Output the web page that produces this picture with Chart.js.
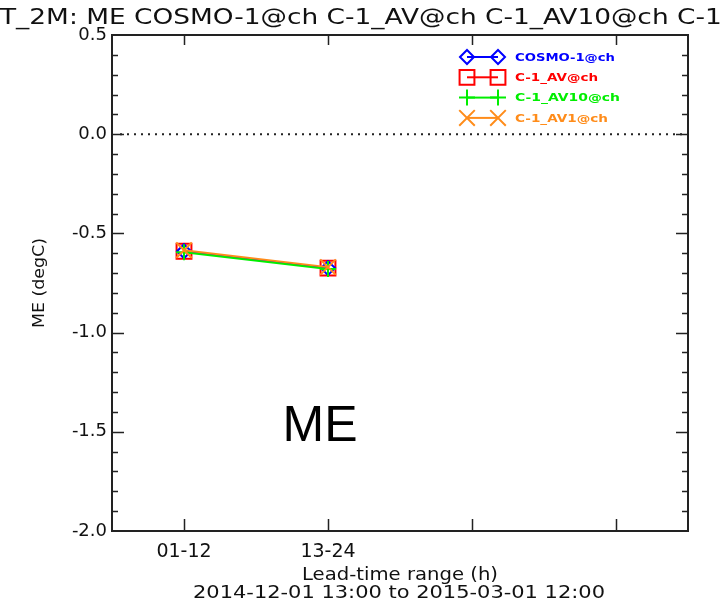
<!DOCTYPE html>
<html><head><meta charset="utf-8">
<script src="https://cdn.jsdelivr.net/npm/chart.js@4/dist/chart.umd.min.js"></script>
<style>html,body{margin:0;padding:0;background:#fff;}canvas{display:block;}</style>
</head><body>
<canvas id="c" width="721" height="605"></canvas>
<script>
// ---- data ----
const categories = ['01-12', '13-24', '', ''];
const seriesNames = ['COSMO-1@ch', 'C-1_AV@ch', 'C-1_AV10@ch', 'C-1_AV1@ch'];
const cosmo1 = [-0.59, -0.675];
const c1av = [-0.59, -0.675];
const c1av10 = [-0.595, -0.68];
const c1av1 = [-0.585, -0.67];
const yTicks = [-2.0, -1.5, -1.0, -0.5, 0.0, 0.5];
const yMinorStep = 0.1;
const titleText = 'T_2M: ME COSMO-1@ch C-1_AV@ch C-1_AV10@ch C-1_AV1@ch';
const xTitle = 'Lead-time range (h)';
const dateText = '2014-12-01 13:00 to 2015-03-01 12:00';
const yTitle = 'ME (degC)';
const bigLabel = 'ME';

// ---- styles ----
const colors = ['#0000ff', '#ff0000', '#00ee00', '#ff8c1a'];
const styles = [
  {pointStyle: 'rectRot', radius: 7, order: 2},
  {pointStyle: 'rect', radius: 10.5, order: 3},
  {pointStyle: 'cross', radius: 8, order: 1},
  {pointStyle: 'crossRot', radius: 11, order: 0}
];
const seriesData = [cosmo1, c1av, c1av10, c1av1];

function stretchText(ctx, text, x, y, font, targetW, align, color) {
  ctx.save();
  ctx.font = font;
  ctx.fillStyle = color || '#111';
  ctx.textBaseline = 'middle';
  const w = ctx.measureText(text).width;
  const sx = targetW / w;
  ctx.translate(x, y);
  ctx.scale(sx, 1);
  ctx.textAlign = align || 'left';
  ctx.fillText(text, 0, 0);
  ctx.restore();
}

function drawMarker(ctx, style, r, x, y, color) {
  ctx.save();
  ctx.strokeStyle = color;
  ctx.lineWidth = 2;
  ctx.beginPath();
  if (style === 'rect') {
    const s = r * Math.SQRT1_2;
    ctx.rect(x - s, y - s, 2 * s, 2 * s);
  } else if (style === 'rectRot') {
    ctx.moveTo(x - r, y); ctx.lineTo(x, y - r); ctx.lineTo(x + r, y); ctx.lineTo(x, y + r); ctx.closePath();
  } else if (style === 'cross') {
    ctx.moveTo(x - r, y); ctx.lineTo(x + r, y); ctx.moveTo(x, y - r); ctx.lineTo(x, y + r);
  } else if (style === 'crossRot') {
    const s = r * Math.SQRT1_2;
    ctx.moveTo(x - s, y - s); ctx.lineTo(x + s, y + s); ctx.moveTo(x - s, y + s); ctx.lineTo(x + s, y - s);
  }
  ctx.stroke();
  ctx.restore();
}

const decor = {
  id: 'decor',
  beforeDatasetsDraw(chart) {
    const ctx = chart.ctx;
    const a = chart.chartArea;
    const y = chart.scales.y;
    const y0 = y.getPixelForValue(0);
    ctx.save();
    ctx.strokeStyle = '#222';
    ctx.lineWidth = 2;
    ctx.setLineDash([2, 5]);
    ctx.beginPath();
    ctx.moveTo(a.left + 8, y0); ctx.lineTo(a.right, y0);
    ctx.stroke();
    ctx.restore();
  },
  afterDraw(chart) {
    const ctx = chart.ctx;
    const a = chart.chartArea;
    const x = chart.scales.x, y = chart.scales.y;
    ctx.save();
    ctx.strokeStyle = '#222';
    ctx.lineWidth = 2;
    ctx.strokeRect(a.left, a.top, a.right - a.left, a.bottom - a.top);
    ctx.lineWidth = 1.5;
    ctx.beginPath();
    const lo = yTicks[0], hi = yTicks[yTicks.length - 1];
    const n = Math.round((hi - lo) / yMinorStep);
    for (let i = 1; i < n; i++) {
      const v = lo + i * yMinorStep;
      const p = Math.round(y.getPixelForValue(v)) + 0.5;
      const major = (i % 5) === 0;
      const len = major ? 12 : 6;
      ctx.moveTo(a.left, p); ctx.lineTo(a.left + len, p);
      ctx.moveTo(a.right, p); ctx.lineTo(a.right - len, p);
    }
    for (let i = 0; i < categories.length; i++) {
      const p = Math.round(x.getPixelForValue(i)) + 0.5;
      ctx.moveTo(p, a.bottom); ctx.lineTo(p, a.bottom - 12);
      ctx.moveTo(p, a.top); ctx.lineTo(p, a.top + 10);
    }
    ctx.stroke();
    ctx.restore();

    ctx.save();
    ctx.font = '22px "DejaVu Sans"';
    const prefixW = ctx.measureText('T_2M: ME COSMO-1@ch C-1_AV@ch C-1_AV10@ch ').width;
    const fullW = ctx.measureText(titleText).width;
    ctx.restore();
    stretchText(ctx, titleText, 0, 18, '22px "DejaVu Sans"', fullW * 677 / prefixW, 'left', '#111');
    const cx = (a.left + a.right) / 2;
    stretchText(ctx, xTitle, cx, 576, '17px "DejaVu Sans"', 196, 'center', '#111');
    stretchText(ctx, dateText, cx - 1, 594, '17px "DejaVu Sans"', 412, 'center', '#111');
    ctx.save();
    ctx.translate(40, (a.top + a.bottom) / 2);
    ctx.rotate(-Math.PI / 2);
    stretchText(ctx, yTitle, 0, 0, '15px "DejaVu Sans"', 90, 'center', '#111');
    ctx.restore();
    ctx.save();
    ctx.font = '50px "Liberation Sans"';
    ctx.fillStyle = '#000';
    ctx.textAlign = 'center';
    ctx.textBaseline = 'alphabetic';
    ctx.fillText(bigLabel, 320, 441);
    ctx.restore();

    const lx1 = 467, lx2 = 498, tx = 515;
    const targets = [100, 83, 105, 93];
    for (let i = 0; i < seriesNames.length; i++) {
      const ly = 57 + 20.3 * i;
      ctx.save();
      ctx.strokeStyle = colors[i];
      ctx.lineWidth = 2;
      ctx.beginPath(); ctx.moveTo(lx1, ly); ctx.lineTo(lx2, ly); ctx.stroke();
      ctx.restore();
      drawMarker(ctx, styles[i].pointStyle, styles[i].radius, lx1, ly, colors[i]);
      drawMarker(ctx, styles[i].pointStyle, styles[i].radius, lx2, ly, colors[i]);
      stretchText(ctx, seriesNames[i], tx, ly + 1, 'bold 11px "DejaVu Sans"', targets[i], 'left', colors[i]);
    }
  }
};

const datasets = seriesData.map((d, i) => ({
  label: seriesNames[i],
  data: d,
  borderColor: colors[i],
  backgroundColor: 'transparent',
  borderWidth: 2,
  pointStyle: styles[i].pointStyle,
  pointRadius: styles[i].radius,
  pointHoverRadius: styles[i].radius,
  pointBorderColor: colors[i],
  pointBackgroundColor: 'transparent',
  pointBorderWidth: 2,
  order: styles[i].order,
  tension: 0
}));

new Chart(document.getElementById('c'), {
  type: 'line',
  data: {labels: categories, datasets},
  plugins: [decor],
  options: {
    responsive: false,
    animation: false,
    devicePixelRatio: 1,
    layout: {padding: {top: 35, right: 33, bottom: 0, left: 0}},
    plugins: {legend: {display: false}, title: {display: false}, tooltip: {enabled: false}},
    scales: {
      x: {
        type: 'category',
        offset: true,
        grid: {display: false, drawTicks: false},
        border: {display: false},
        ticks: {font: {family: 'DejaVu Sans', size: 19}, color: '#111', padding: 10, maxRotation: 0, autoSkip: false},
        afterFit(s) { s.height = 74; }
      },
      y: {
        min: yTicks[0],
        max: yTicks[yTicks.length - 1],
        grid: {display: false, drawTicks: false},
        border: {display: false},
        afterBuildTicks(s) { s.ticks = yTicks.map(v => ({value: v})); },
        ticks: {font: {family: 'DejaVu Sans', size: 18}, color: '#111', padding: 5,
          callback: v => Number(v).toFixed(1)},
        afterFit(s) { s.width = 112; }
      }
    }
  }
});
</script>
</body></html>
